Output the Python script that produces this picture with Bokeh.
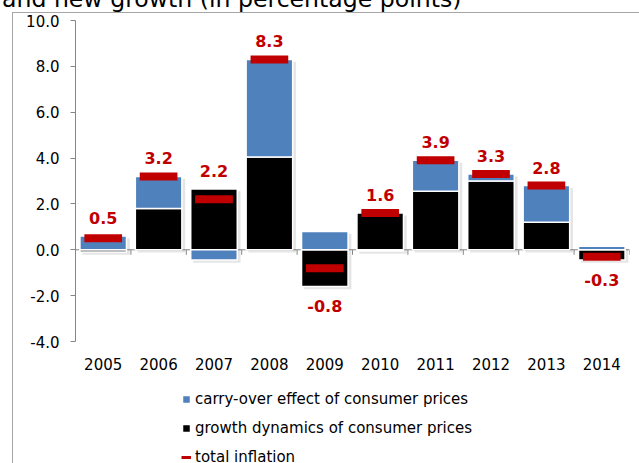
import math
from bokeh.plotting import figure
from bokeh.layouts import column
from bokeh.models import (FactorRange, Range1d, ColumnDataSource, Span, NumeralTickFormatter,
                          FixedTicker, Legend, LegendItem, Div, InlineStyleSheet)
from bokeh.core.properties import value
from bokeh.embed import file_html
from bokeh.resources import INLINE

# ---- data ----
years = ["2005", "2006", "2007", "2008", "2009", "2010", "2011", "2012", "2013", "2014"]
carry_over = [0.6, 1.4, -0.45, 4.25, 0.8, -0.05, 1.35, 0.3, 1.6, 0.15]
growth = [-0.1, 1.8, 2.65, 4.05, -1.6, 1.6, 2.55, 3.0, 1.2, -0.45]
total = [0.5, 3.2, 2.2, 8.3, -0.8, 1.6, 3.9, 3.3, 2.8, -0.3]
y_ticks = [-4, -2, 0, 2, 4, 6, 8, 10]
title_text = "and new growth (in percentage points)"
legend_labels = ["carry-over effect of consumer prices",
                 "growth dynamics of consumer prices",
                 "total inflation"]

BLUE = "#4F81BD"
BLACK = "#000000"
RED = "#C00000"
GRAY = "#868686"
FONT = "DejaVu Sans"

# ---- stacking (positive up, negative down; growth first) ----
g_bot = [min(g, 0) for g in growth]
g_top = [max(g, 0) for g in growth]
c_bot, c_top = [], []
for g, c in zip(growth, carry_over):
    if c >= 0:
        b = max(g, 0)
        c_bot.append(b)
        c_top.append(b + c)
    else:
        t = min(g, 0)
        c_top.append(t)
        c_bot.append(t + c)
stack_top = [max(a, b) for a, b in zip(g_top, c_top)]
stack_bot = [min(a, b) for a, b in zip(g_bot, c_bot)]

src = ColumnDataSource(dict(x=years, g_bot=g_bot, g_top=g_top, c_bot=c_bot, c_top=c_top,
                            total=total, s_top=stack_top, s_bot=stack_bot,
                            sh_x=[(y, 0.05) for y in years],
                            sh_top=[t - 0.1 for t in stack_top],
                            sh_bot=[b - 0.12 for b in stack_bot]))

# geometry: value axis (-4..10) occupies 321px; the plotting frame continues below it
# down to the bottom of the page so that the legend is not clipped.
W, H = 639, 463
TOP, LEFT, RIGHT = 20, 75, 10
AXIS_PX = 321
y_lo, y_hi = y_ticks[0], y_ticks[-1]
frame_px = H - TOP
y_start = y_hi - (y_hi - y_lo) * frame_px / AXIS_PX

p = figure(width=W, height=H, x_range=FactorRange(factors=years, range_padding=0),
           y_range=Range1d(y_start, y_hi), output_backend="svg", toolbar_location=None,
           x_axis_location=None,
           min_border_left=LEFT, min_border_right=RIGHT, min_border_top=TOP, min_border_bottom=0,
           margin=(-13, 0, 0, 0))
p.outline_line_color = None
p.xgrid.grid_line_color = None
p.ygrid.grid_line_color = None
p.background_fill_color = "white"
p.border_fill_color = None

# zero line
p.add_layout(Span(location=0, dimension="width", line_color=GRAY, line_width=1, level="underlay"))

# shadows
p.vbar(x="sh_x", top="sh_top", bottom="sh_bot", width=0.86, source=src,
       fill_color="#000000", fill_alpha=0.10, line_color=None)

r_g = p.vbar(x="x", top="g_top", bottom="g_bot", width=0.84, source=src,
             fill_color=BLACK, line_color="white", line_width=1.5)
r_c = p.vbar(x="x", top="c_top", bottom="c_bot", width=0.84, source=src,
             fill_color=BLUE, line_color="white", line_width=1.5)

# total inflation markers
p.rect(x="x", y="total", width=0.68, height=8, height_units="screen", source=src,
       fill_color=RED, line_color=None)

# ticks on the zero line between categories
tick_x = [(y, -0.5) for y in years] + [(years[-1], 0.5)]
p.ray(x=tick_x, y=[0] * len(tick_x), length=5, length_units="screen", angle=-math.pi / 2,
      line_color=GRAY, line_width=1)

# value labels
pos = [(y, max(t, s), f"{t:.1f}") for y, t, s in zip(years, total, stack_top) if t >= 0]
neg = [(y, min(t, s), f"{t:.1f}") for y, t, s in zip(years, total, stack_bot) if t < 0]
p.text(x=[a[0] for a in pos], y=[a[1] for a in pos], text=[a[2] for a in pos],
       text_font=value(FONT), text_font_style="bold", text_font_size="16px", text_color=RED,
       text_align="center", text_baseline="middle", y_offset=-18)
p.text(x=[a[0] for a in neg], y=[a[1] for a in neg], text=[a[2] for a in neg],
       text_font=value(FONT), text_font_style="bold", text_font_size="16px", text_color=RED,
       text_align="center", text_baseline="middle", y_offset=20)

# category labels under the value axis
p.text(x=years, y=[y_lo] * len(years), text=years,
       text_font=value(FONT), text_font_size="15px", text_color="black",
       text_align="center", text_baseline="middle", y_offset=22)

# value axis
p.yaxis.bounds = (y_lo, y_hi)
p.yaxis.ticker = FixedTicker(ticks=y_ticks)
p.yaxis.formatter = NumeralTickFormatter(format="0.0")
p.yaxis.axis_line_color = GRAY
p.yaxis.major_tick_line_color = GRAY
p.yaxis.major_tick_out = 5
p.yaxis.major_tick_in = 0
p.yaxis.minor_tick_line_color = None
p.yaxis.major_label_standoff = 11
p.yaxis.major_label_text_font = FONT
p.yaxis.major_label_text_font_size = "15px"
p.yaxis.major_label_text_color = "black"

# legend (the line renderer carries no drawable points; it only supplies the red dash icon)
r_l = p.line(x=years, y=[float("nan")] * len(years), line_color=RED, line_width=3)
legend = Legend(items=[LegendItem(label=legend_labels[0], renderers=[r_c]),
                       LegendItem(label=legend_labels[1], renderers=[r_g]),
                       LegendItem(label=legend_labels[2], renderers=[r_l])],
                location=(106, -4), orientation="vertical",
                glyph_width=10, glyph_height=10, label_height=20, spacing=9,
                label_standoff=4, padding=0, margin=0,
                border_line_color=None, background_fill_alpha=0,
                label_text_font=FONT, label_text_font_size="15px", label_text_color="black")
p.add_layout(legend)

# chart-area border (top and left edges visible)
p.stylesheets = [InlineStyleSheet(css=(
    ":host{position:relative;}"
    ":host::after{content:'';position:absolute;left:12px;top:12px;right:0;bottom:0;"
    "border-left:1.5px solid #a6a6a6;border-top:1.5px solid #a6a6a6;pointer-events:none;}"))]

# cut-off caption above the chart
title_div = Div(text=title_text, width=620, height=27, margin=(-14, 0, 0, 2),
                styles={"font-family": FONT, "font-size": "23.6px", "line-height": "27px",
                        "white-space": "nowrap", "color": "black"})

layout = column(title_div, p, spacing=0)
open("out.html", "w").write(file_html(layout, INLINE))
